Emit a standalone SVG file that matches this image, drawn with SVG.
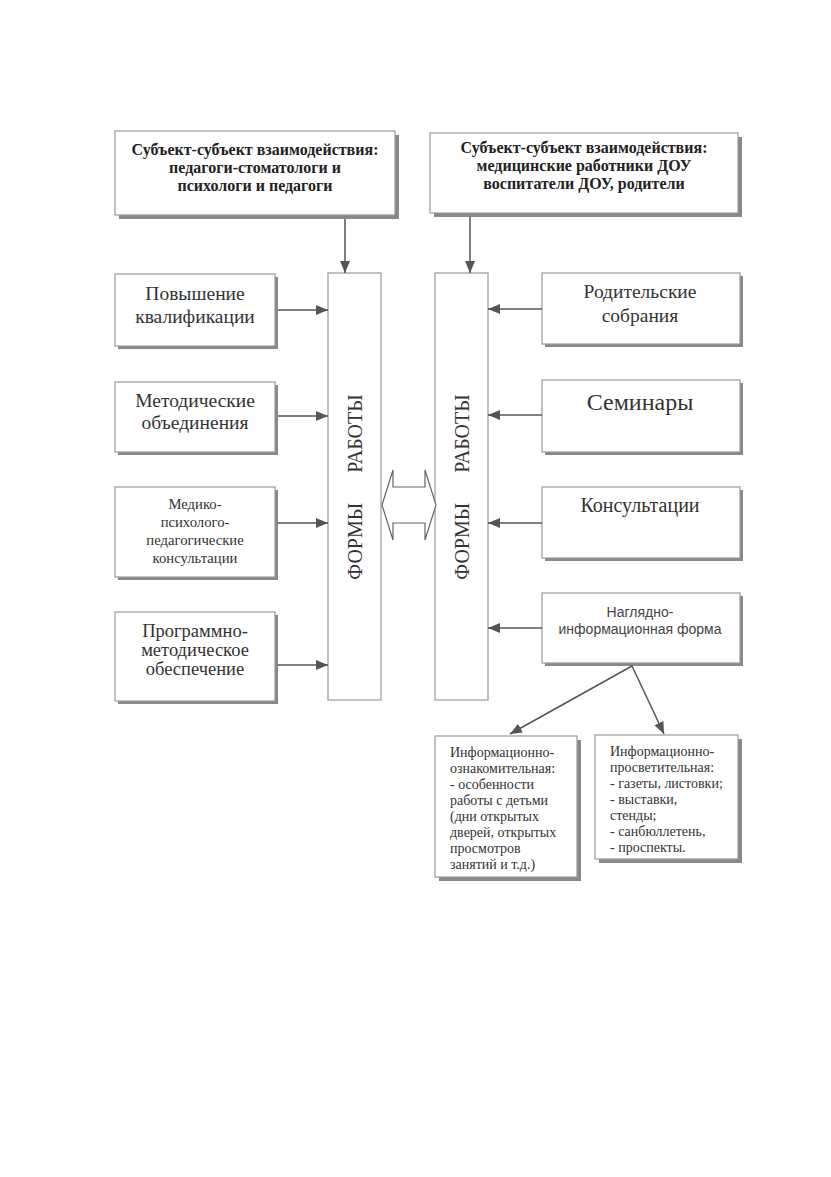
<svg xmlns="http://www.w3.org/2000/svg" width="831" height="1177" viewBox="0 0 831 1177">
<defs>
<marker id="ah" markerWidth="12" markerHeight="10" refX="12" refY="5" orient="auto" markerUnits="userSpaceOnUse">
<path d="M0,0 L12,5 L0,10 Z" fill="#555"/>
</marker>
</defs>
<style>
.box{fill:#fff;stroke:#999;stroke-width:1.2}
.sh{fill:#888}
.col{fill:#fff;stroke:#999;stroke-width:1.2}
.t{font-family:"Liberation Serif","Times New Roman",serif;fill:#333;text-anchor:middle}
.b{font-weight:bold;font-size:16px;fill:#222}
.s{font-family:"Liberation Sans",Arial,sans-serif;fill:#444;text-anchor:middle}
.l{font-family:"Liberation Serif","Times New Roman",serif;fill:#333;font-size:14px}
.c{stroke:#555;stroke-width:1.5;fill:none}
</style>
<rect width="831" height="1177" fill="#fff"/>

<g id="top-left">
<rect class="sh" x="119" y="135" width="280" height="84"/>
<rect class="box" x="115" y="131" width="280" height="84"/>
<text class="t b" x="255" y="155">Субъект-субъект взаимодействия:</text>
<text class="t b" x="255" y="173">педагоги-стоматологи и</text>
<text class="t b" x="255" y="191">психологи и педагоги</text>
</g>
<g id="top-right">
<rect class="sh" x="434" y="137" width="308" height="80"/>
<rect class="box" x="430" y="133" width="308" height="80"/>
<text class="t b" x="584" y="153">Субъект-субъект взаимодействия:</text>
<text class="t b" x="584" y="171">медицинские работники ДОУ</text>
<text class="t b" x="584" y="189">воспитатели ДОУ, родители</text>
</g>

<g id="col-left">
<rect class="col" x="328" y="273" width="53" height="427"/>
<text class="t" font-size="20" transform="translate(362,487) rotate(-90)">ФОРМЫ<tspan dx="30">РАБОТЫ</tspan></text>
</g>
<g id="col-right">
<rect class="col" x="435" y="273" width="53" height="427"/>
<text class="t" font-size="20" transform="translate(469,487) rotate(-90)">ФОРМЫ<tspan dx="30">РАБОТЫ</tspan></text>
</g>

<g id="double-arrow">
<path d="M382,505 L393,470 L393,487 L425,487 L425,470 L436,505 L425,540 L425,523 L393,523 L393,540 Z" fill="#fff" stroke="#666" stroke-width="1.2"/>
</g>

<g id="l1">
<rect class="sh" x="118" y="277" width="160" height="72"/>
<rect class="box" x="115" y="274" width="160" height="72"/>
<text class="t" font-size="19.5" x="195" y="300">Повышение</text>
<text class="t" font-size="19.5" x="195" y="323">квалификации</text>
</g>
<g id="l2">
<rect class="sh" x="118" y="385" width="160" height="70"/>
<rect class="box" x="115" y="382" width="160" height="70"/>
<text class="t" font-size="19.5" x="195" y="407">Методические</text>
<text class="t" font-size="19.5" x="195" y="429">объединения</text>
</g>
<g id="l3">
<rect class="sh" x="118" y="490" width="160" height="90"/>
<rect class="box" x="115" y="487" width="160" height="90"/>
<text class="t" font-size="14.7" x="195" y="509">Медико-</text>
<text class="t" font-size="14.7" x="195" y="527">психолого-</text>
<text class="t" font-size="14.7" x="195" y="545">педагогические</text>
<text class="t" font-size="14.7" x="195" y="563">консультации</text>
</g>
<g id="l4">
<rect class="sh" x="118" y="615" width="160" height="89"/>
<rect class="box" x="115" y="612" width="160" height="89"/>
<text class="t" font-size="18.5" x="195" y="637">Программно-</text>
<text class="t" font-size="18.5" x="195" y="656">методическое</text>
<text class="t" font-size="18.5" x="195" y="675">обеспечение</text>
</g>

<g id="r1">
<rect class="sh" x="545" y="276" width="198" height="71"/>
<rect class="box" x="542" y="273" width="198" height="71"/>
<text class="t" font-size="19.5" x="640" y="298">Родительские</text>
<text class="t" font-size="19.5" x="640" y="322">собрания</text>
</g>
<g id="r2">
<rect class="sh" x="545" y="383" width="198" height="72"/>
<rect class="box" x="542" y="380" width="198" height="72"/>
<text class="t" font-size="24" x="640" y="410">Семинары</text>
</g>
<g id="r3">
<rect class="sh" x="545" y="490" width="198" height="71"/>
<rect class="box" x="542" y="487" width="198" height="71"/>
<text class="t" font-size="20" x="640" y="512">Консультации</text>
</g>
<g id="r4">
<rect class="sh" x="545" y="596" width="198" height="70"/>
<rect class="box" x="542" y="593" width="198" height="70"/>
<text class="s" font-size="14" x="640" y="617">Наглядно-</text>
<text class="s" font-size="14" x="640" y="634">информационная форма</text>
</g>

<g id="b1">
<rect class="sh" x="439" y="740" width="142" height="141"/>
<rect class="box" x="435" y="736" width="142" height="141"/>
<text class="l" x="450" y="757">Информационно-</text>
<text class="l" x="450" y="773">ознакомительная:</text>
<text class="l" x="450" y="789">- особенности</text>
<text class="l" x="450" y="805">работы с детьми</text>
<text class="l" x="450" y="821">(дни открытых</text>
<text class="l" x="450" y="837">дверей, открытых</text>
<text class="l" x="450" y="853">просмотров</text>
<text class="l" x="450" y="869">занятий и т.д.)</text>
</g>
<g id="b2">
<rect class="sh" x="599" y="739" width="143" height="124"/>
<rect class="box" x="595" y="735" width="143" height="124"/>
<text class="l" x="610" y="756">Информационно-</text>
<text class="l" x="610" y="772">просветительная:</text>
<text class="l" x="610" y="788">- газеты, листовки;</text>
<text class="l" x="610" y="804">- выставки,</text>
<text class="l" x="610" y="820">стенды;</text>
<text class="l" x="610" y="836">- санбюллетень,</text>
<text class="l" x="610" y="852">- проспекты.</text>
</g>

<g id="connectors">
<line class="c" x1="345" y1="219" x2="345" y2="273" marker-end="url(#ah)"/>
<line class="c" x1="470" y1="217" x2="470" y2="273" marker-end="url(#ah)"/>
<line class="c" x1="278" y1="310" x2="328" y2="310" marker-end="url(#ah)"/>
<line class="c" x1="278" y1="416" x2="328" y2="416" marker-end="url(#ah)"/>
<line class="c" x1="278" y1="523" x2="328" y2="523" marker-end="url(#ah)"/>
<line class="c" x1="278" y1="665" x2="328" y2="665" marker-end="url(#ah)"/>
<line class="c" x1="542" y1="309" x2="488" y2="309" marker-end="url(#ah)"/>
<line class="c" x1="542" y1="415" x2="488" y2="415" marker-end="url(#ah)"/>
<line class="c" x1="542" y1="523" x2="488" y2="523" marker-end="url(#ah)"/>
<line class="c" x1="542" y1="628" x2="488" y2="628" marker-end="url(#ah)"/>
<line class="c" x1="632" y1="666" x2="510" y2="734" marker-end="url(#ah)"/>
<line class="c" x1="632" y1="666" x2="664" y2="734" marker-end="url(#ah)"/>
</g>
</svg>
